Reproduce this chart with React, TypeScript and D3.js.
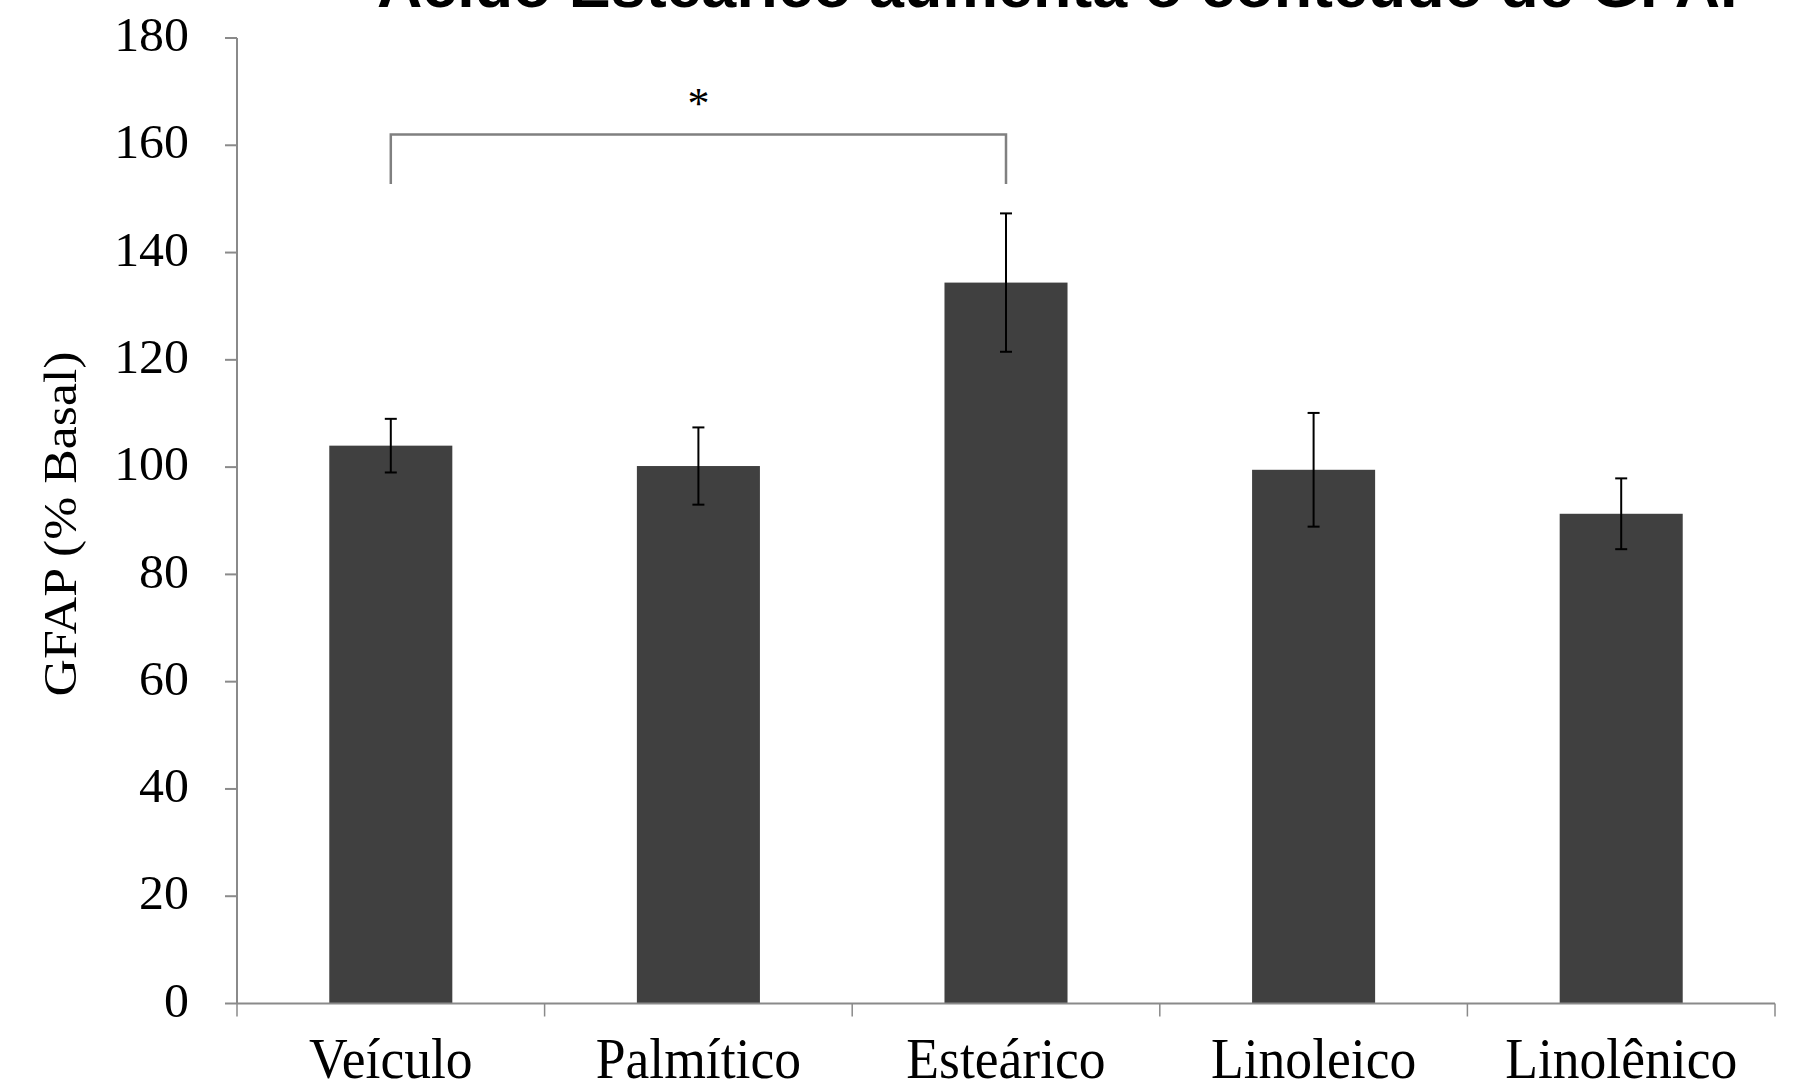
import React from "react";
import * as d3 from "d3";

// GFAP content (% of basal) for each fatty acid treatment, mean ± SEM
const categories = ["Veículo", "Palmítico", "Esteárico", "Linoleico", "Linolênico"];
const means = [104.0, 100.2, 134.4, 99.5, 91.3];
const errors = [5.0, 7.2, 12.9, 10.6, 6.6];
const yTicks = [0, 20, 40, 60, 80, 100, 120, 140, 160, 180];

// Significance bracket between Veículo and Esteárico
const bracketPair = ["Veículo", "Esteárico"];
const bracketTop = 162;
const bracketFoot = 152.8;
const starLevel = 165;
const starLabel = "*";

const title = "Ácido Esteárico aumenta o conteúdo de GFAP";
const yLabel = "GFAP (% Basal)";

const W = 1803;
const H = 1089;
const left = 237;
const right = 1775;
const top = 38;
const bottom = 1003.5;

const AXIS = "#8a8a8a";
const BAR = "#404040";
const SERIF = "'Liberation Serif', 'Times New Roman', serif";

export default function App() {
  const x = d3.scaleBand<string>().domain(categories).range([left, right]).paddingInner(0.6).paddingOuter(0.3);
  const y = d3.scaleLinear().domain([0, 180]).range([bottom, top]);
  const step = (right - left) / categories.length;
  const boundaries = d3.range(categories.length + 1).map((i) => left + i * step);
  const cx = (c: string) => (x(c) as number) + x.bandwidth() / 2;
  const capHalf = 6;

  const bx1 = cx(bracketPair[0]);
  const bx2 = cx(bracketPair[1]);

  return (
    <svg width={W} height={H} style={{ position: "absolute", left: 0, top: 0, background: "#fff" }}>
      <rect x={0} y={0} width={W} height={H} fill="#fff" />

      {/* title, partly above the top edge */}
      <text
        x={377}
        y={7}
        fontFamily="'Liberation Sans', Arial, sans-serif"
        fontWeight="bold"
        fontSize={62}
        textLength={1385}
        lengthAdjust="spacingAndGlyphs"
        fill="#000"
      >
        {title}
      </text>

      {/* bars */}
      {categories.map((c, i) => (
        <rect key={c} x={x(c)} y={y(means[i])} width={x.bandwidth()} height={y(0) - y(means[i])} fill={BAR} />
      ))}

      {/* error bars */}
      {categories.map((c, i) => {
        const hi = y(means[i] + errors[i]);
        const lo = y(means[i] - errors[i]);
        const xc = cx(c);
        return (
          <g key={c + "-err"} stroke="#000" strokeWidth={2}>
            <line x1={xc} x2={xc} y1={hi} y2={lo} />
            <line x1={xc - capHalf} x2={xc + capHalf} y1={hi} y2={hi} />
            <line x1={xc - capHalf} x2={xc + capHalf} y1={lo} y2={lo} />
          </g>
        );
      })}

      {/* y axis */}
      <line x1={left} x2={left} y1={y(180)} y2={y(0)} stroke={AXIS} strokeWidth={2} />
      {yTicks.map((t) => (
        <g key={t}>
          <line x1={left - 12} x2={left} y1={y(t)} y2={y(t)} stroke={AXIS} strokeWidth={2} />
          <text
            transform={`translate(189, ${y(t) - 3}) scale(1.04, 1)`}
            textAnchor="end"
            dominantBaseline="central"
            fontFamily={SERIF}
            fontSize={48}
            fill="#000"
          >
            {t}
          </text>
        </g>
      ))}

      {/* x axis */}
      <line x1={left} x2={right} y1={y(0)} y2={y(0)} stroke={AXIS} strokeWidth={2} />
      {boundaries.map((b, i) => (
        <line key={i} x1={b} x2={b} y1={y(0)} y2={y(0) + 13} stroke={AXIS} strokeWidth={1.5} />
      ))}
      {categories.map((c) => (
        <text
          key={c + "-lbl"}
          transform={`translate(${cx(c)}, 1078) scale(0.94, 1)`}
          textAnchor="middle"
          fontFamily={SERIF}
          fontSize={57}
          fill="#000"
        >
          {c}
        </text>
      ))}

      {/* y axis title */}
      <text
        transform={`translate(76, 524) rotate(-90)`}
        textAnchor="middle"
        fontFamily={SERIF}
        fontSize={46}
        textLength={345}
        lengthAdjust="spacingAndGlyphs"
        fill="#000"
      >
        {yLabel}
      </text>

      {/* significance bracket */}
      <path
        d={`M${bx1},${y(bracketFoot)} V${y(bracketTop)} H${bx2} V${y(bracketFoot)}`}
        fill="none"
        stroke="#808080"
        strokeWidth={2.5}
      />
      <text
        x={(bx1 + bx2) / 2}
        y={y(starLevel)}
        textAnchor="middle"
        fontFamily={SERIF}
        fontSize={44}
        fill="#000"
      >
        {starLabel}
      </text>
    </svg>
  );
}
